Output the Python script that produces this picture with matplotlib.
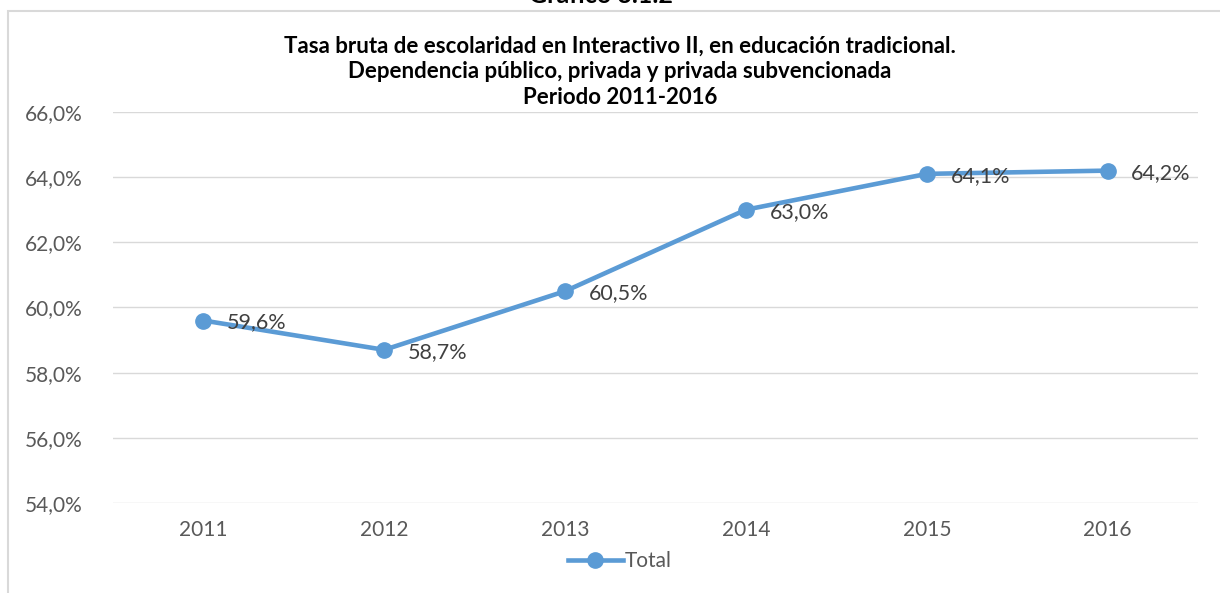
import matplotlib.pyplot as plt
from matplotlib.patches import Rectangle

years = ["2011", "2012", "2013", "2014", "2015", "2016"]
total = [59.6, 58.7, 60.5, 63.0, 64.1, 64.2]
labels = ["59,6%", "58,7%", "60,5%", "63,0%", "64,1%", "64,2%"]
yticks = [54, 56, 58, 60, 62, 64, 66]

plt.rcParams['font.family'] = ['Lato', 'DejaVu Sans']

fig = plt.figure(figsize=(12.2, 5.93), dpi=100)
ax = fig.add_axes([0.0926, 0.1518, 0.8894, 0.6594])

# outer chart frame
fig.patches.append(Rectangle((8 / 1220, -0.1), 1.5, 1 - 11 / 593 + 0.1,
                             transform=fig.transFigure, fill=False,
                             edgecolor="#d9d9d9", linewidth=1.5))

x = list(range(len(years)))
ax.plot(x, total, color="#5b9bd5", linewidth=3.3, marker="o", markersize=11,
        label="Total", zorder=3)
for xi, v, lab in zip(x, total, labels):
    ax.annotate(lab, (xi, v), xytext=(17, -1.5), textcoords="offset points",
                va="center", ha="left", fontsize=15.5, color="#404040")

ax.set_xlim(-0.5, len(years) - 0.5)
ax.set_ylim(54, 66)
ax.set_xticks(x)
ax.set_xticklabels(years)
ax.set_yticks(yticks)
ax.set_yticklabels([f"{t},0%" for t in yticks])
ax.tick_params(length=0, labelsize=15, labelcolor="#595959")
ax.tick_params(axis="x", pad=12)
ax.tick_params(axis="y", pad=22)
ax.grid(axis="y", color="#d9d9d9", linewidth=1)
ax.set_axisbelow(True)
for s in ax.spines.values():
    s.set_visible(False)

cx = 620 / 1220
fig.text(cx, 1 - 46 / 593,
         "Tasa bruta de escolaridad en Interactivo II, en educación tradicional.",
         ha="center", va="center", fontsize=16, fontweight="bold")
fig.text(cx, 1 - 72 / 593,
         "Dependencia público, privada y privada subvencionada",
         ha="center", va="center", fontsize=16, fontweight="bold")
fig.text(cx, 1 - 98 / 593, "Periodo 2011-2016",
         ha="center", va="center", fontsize=16, fontweight="bold")
fig.text(601 / 1220, 1 - 3 / 593, "Gráfico 3.1.2", ha="center",
         va="baseline", fontsize=18, fontweight="bold")

fig.legend(loc="center", bbox_to_anchor=(cx, 1 - 561 / 593), frameon=False,
           fontsize=15, labelcolor="#595959", handlelength=2.6,
           handletextpad=0.1)

fig.savefig("out.png", dpi=100)
